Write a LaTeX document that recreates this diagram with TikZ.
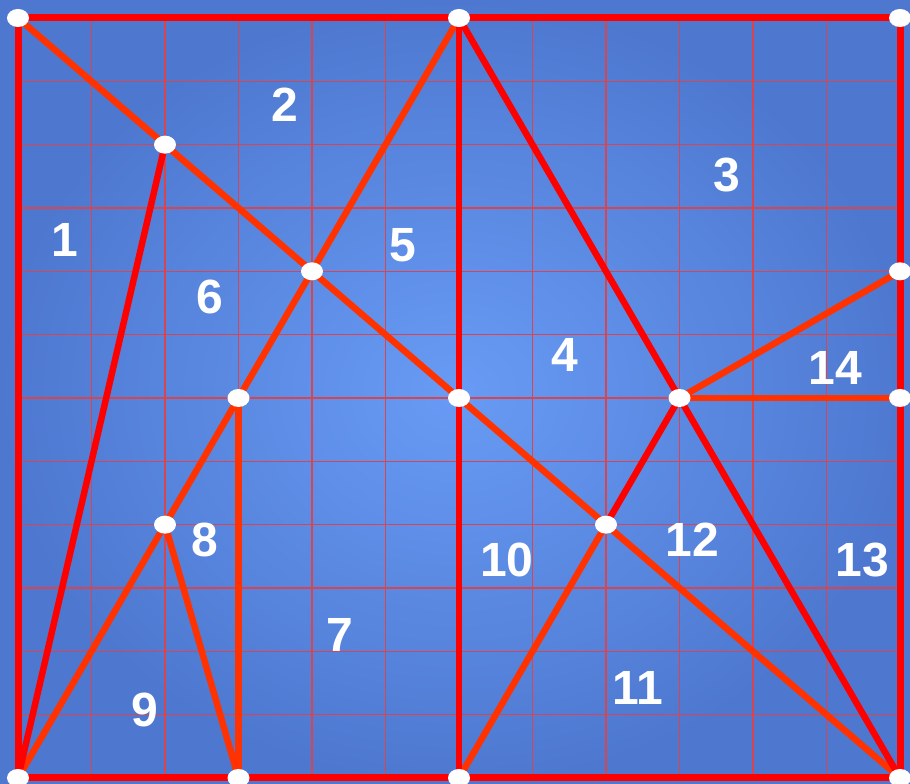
\documentclass[tikz,border=0pt]{standalone}
\usepackage{fontspec}
\setmainfont{Liberation Sans}
\usetikzlibrary{shapes.geometric}
\definecolor{bginner}{RGB}{104,155,245}
\definecolor{bgouter}{RGB}{78,120,208}
\definecolor{gridred}{RGB}{215,70,80}
\definecolor{cutred}{RGB}{255,0,0}
\definecolor{cutorange}{RGB}{255,50,0}
\tikzset{
  frameline/.style={draw=cutred,line width=7pt,line join=miter},
  redcut/.style={draw=cutred,line width=6.5pt,line cap=round},
  orangecut/.style={draw=cutorange,line width=6.5pt,line cap=round},
  gridline/.style={draw=gridred,line width=1.4pt},
  dot/.style={ellipse,fill=white,draw=none,minimum width=22pt,minimum height=18pt,inner sep=0pt},
  piece/.style={text=white,font=\bfseries\fontsize{48}{48}\selectfont,inner sep=0pt}
}
\begin{document}
\begin{tikzpicture}
\useasboundingbox (0pt,0pt) rectangle (910pt,-784pt);
\shade[inner color=bginner,outer color=bgouter] (0pt,0pt) rectangle (910pt,-784pt);
\begin{scope}[shift={(18pt,-18pt)},x=73.5pt,y=-63.33pt]
  \foreach \k in {1,...,11} {
    \draw[gridline] (\k,0) -- (\k,12);
    \draw[gridline] (0,\k) -- (12,\k);
  }
  \coordinate (p00) at (0,0);
  \coordinate (p60) at (6,0);
  \coordinate (pC0) at (12,0);
  \coordinate (p22) at (2,2);
  \coordinate (p44) at (4,4);
  \coordinate (pC4) at (12,4);
  \coordinate (p36) at (3,6);
  \coordinate (p66) at (6,6);
  \coordinate (p96) at (9,6);
  \coordinate (pC6) at (12,6);
  \coordinate (p28) at (2,8);
  \coordinate (p88) at (8,8);
  \coordinate (p0C) at (0,12);
  \coordinate (p3C) at (3,12);
  \coordinate (p6C) at (6,12);
  \coordinate (pCC) at (12,12);
  % cuts
  \draw[orangecut] (p00) -- (p22) -- (p44) -- (p66) -- (p88) -- (pCC);
  \draw[orangecut] (p60) -- (p44) -- (p36) -- (p28) -- (p0C);
  \draw[orangecut] (p36) -- (p3C);
  \draw[orangecut] (p28) -- (p3C);
  \draw[orangecut] (p88) -- (p6C);
  \draw[orangecut] (p96) -- (pC4);
  \draw[orangecut] (p96) -- (pC6);
  \draw[redcut] (p22) -- (p0C);
  \draw[redcut] (p60) -- (p66) -- (p6C);
  \draw[redcut] (p60) -- (p96) -- (pCC);
  \draw[redcut] (p96) -- (p88);
  \draw[frameline] (p00) -- (pC0) -- (pCC) -- (p0C) -- cycle;
  % vertices
  \foreach \n in {p00,p60,pC0,p22,p44,pC4,p36,p66,p96,pC6,p28,p88,p0C,p3C,p6C,pCC}
    \node[dot] (d\n) at (\n) {};
\end{scope}
% piece numbers
\node[piece] (n1) at (65pt,-240pt) {1};
\node[piece] (n2) at (285pt,-105pt) {2};
\node[piece] (n3) at (727pt,-175pt) {3};
\node[piece] (n4) at (565pt,-355pt) {4};
\node[piece] (n5) at (403pt,-245pt) {5};
\node[piece] (n6) at (210pt,-297pt) {6};
\node[piece] (n7) at (340pt,-635pt) {7};
\node[piece] (n8) at (205pt,-540pt) {8};
\node[piece] (n9) at (145pt,-710pt) {9};
\node[piece] (n10) at (507pt,-560pt) {10};
\node[piece] (n11) at (638pt,-688pt) {11};
\node[piece] (n12) at (692pt,-540pt) {12};
\node[piece] (n13) at (862pt,-560pt) {13};
\node[piece] (n14) at (835pt,-368pt) {14};
\end{tikzpicture}
\end{document}
